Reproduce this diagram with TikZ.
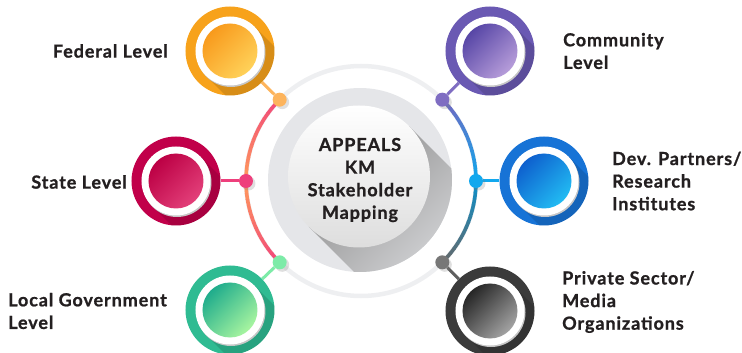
\documentclass[tikz,border=0pt]{standalone}
\usepackage{fontspec}
\setmainfont{Lato}[LetterSpace=5, BoldFeatures={FakeBold=1}]
\usetikzlibrary{calc,shadows,backgrounds}

\definecolor{ink}{HTML}{231F20}
\definecolor{ringgrey}{HTML}{EEEFF1}
\definecolor{hubgrey}{HTML}{E5E6E9}
\definecolor{hubwhite}{HTML}{F6F6F6}
% arc colours
\definecolor{pinkarc}{HTML}{F0457A}
\definecolor{orangearc}{HTML}{FF9A5C}
\definecolor{purplearc}{HTML}{7565C0}
\definecolor{bluearc}{HTML}{0FA8EC}
\definecolor{greyarc}{HTML}{7A7A7A}
% disks: outer, inner top, inner bottom, dot
\definecolor{fedout}{HTML}{F7A21B}\definecolor{fedtop}{HTML}{F89A1C}\definecolor{fedbot}{HTML}{FFD25A}\definecolor{feddot}{HTML}{FDB45C}
\definecolor{staout}{HTML}{C1004A}\definecolor{statop}{HTML}{BC0044}\definecolor{stabot}{HTML}{E3407A}\definecolor{stadot}{HTML}{EE3F7C}
\definecolor{locout}{HTML}{2FBB92}\definecolor{loctop}{HTML}{1FAC8C}\definecolor{locbot}{HTML}{A8F5A0}\definecolor{locdot}{HTML}{7DEBA8}
\definecolor{comout}{HTML}{6A59B3}\definecolor{comtop}{HTML}{5746A6}\definecolor{combot}{HTML}{B79DDA}\definecolor{comdot}{HTML}{7F6DC2}
\definecolor{devout}{HTML}{1773D6}\definecolor{devtop}{HTML}{0E60CE}\definecolor{devbot}{HTML}{22BCF3}\definecolor{devdot}{HTML}{12A8EE}
\definecolor{priout}{HTML}{3B3B3B}\definecolor{pritop}{HTML}{262626}\definecolor{pribot}{HTML}{A3A3A3}\definecolor{pridot}{HTML}{777777}

\tikzset{
  item/.style n args={3}{circle, minimum size=89pt, inner sep=0pt, fill=#1,
    path picture={
      \coordinate (c) at (path picture bounding box.center);
      \fill[black, opacity=.13] ($(c)+(45:34.5pt)$) -- ++(-45:90pt) -- ++(-135:69pt) -- ($(c)+(-135:34.5pt)$) -- cycle;
      \fill[black!22] ($(c)+(1pt,-1.5pt)$) circle (34.5pt);
      \fill[white] (c) circle (34.5pt);
      \shade[top color=#2, bottom color=#3, shading angle=45] (c) circle (27.5pt);
    }},
  dot/.style={circle, minimum size=14pt, inner sep=0pt, fill=#1,
    drop shadow={shadow xshift=2.5pt, shadow yshift=-2.5pt, opacity=.25}},
  link/.style={line width=3pt, #1},
  arcseg/.style={line width=3.6pt},
  lbl/.style={font=\bfseries\fontsize{18}{22.6}\selectfont, text=ink, inner sep=0pt, align=left},
}

\begin{document}
\begin{tikzpicture}[x=1pt,y=1pt]
  \useasboundingbox (-361,-172) rectangle (381,181);

  % centre
  \node[circle, minimum size=184pt, inner sep=0pt, fill=hubgrey,
    path picture={
      \coordinate (w) at ($(path picture bounding box.center)+(-1,3.5)$);
      \shade[top color=black!45, bottom color=hubgrey, shading angle=45]
        ($(w)+(45:71)$) -- ++(-45:120) -- ++(-135:142) -- ($(w)+(-135:71)$) -- cycle;
      \shade[top color=white, bottom color=hubwhite!90!black] (w) circle (71);
    },
    lbl, align=center] (hub) at (-1,1) {APPEALS\\KM\\Stakeholder\\Mapping};

  % dots on the ring
  \node[dot=feddot] (dfed) at (135:115) {};
  \node[dot=stadot] (dsta) at (180:115) {};
  \node[dot=locdot] (dloc) at (225:115) {};
  \node[dot=comdot] (dcom) at (45:115) {};
  \node[dot=devdot] (ddev) at (0:115) {};
  \node[dot=pridot] (dpri) at (-45:115) {};

  % stakeholder disks
  \node[item={fedout}{fedtop}{fedbot}] (federal) at (-131,130) {};
  \node[item={staout}{statop}{stabot}] (state) at (-185,0) {};
  \node[item={locout}{loctop}{locbot}] (local) at (-131,-129) {};
  \node[item={comout}{comtop}{combot}] (community) at (129,130) {};
  \node[item={devout}{devtop}{devbot}] (devpart) at (183,0) {};
  \node[item={priout}{pritop}{pribot}] (private) at (129,-130) {};

  % labels
  \node[lbl, anchor=east] (tfed) at (-193,130) {Federal Level};
  \node[lbl, anchor=east] (tsta) at (-234,-1) {State Level};
  \node[lbl, anchor=west] (tloc) at (-353,-130) {Local Government\\Level};
  \node[lbl, anchor=west] (tcom) at (202,130) {Community\\Level};
  \node[lbl, anchor=west] (tdev) at (251,0) {Dev. Partners/\\Research\\Institutes};
  \node[lbl, anchor=west] (tpri) at (201,-121) {Private Sector/\\Media\\Organizations};

  \begin{pgfonlayer}{background}
    \draw[ringgrey, line width=4.5pt] (0,0) circle (115);
    % left arc, pink at the ends and orange in the middle
    \foreach \a in {135,138,...,222} {
      \pgfmathtruncatemacro\t{abs(\a+1.5-180)/45*100}
      \draw[arcseg, pinkarc!\t!orangearc] (\a:115) arc[start angle=\a, end angle=\a+3.3, radius=115];
    }
    % right arc, purple to blue to grey
    \foreach \a in {0,3,...,42} {
      \pgfmathtruncatemacro\t{(\a+1.5)/45*100}
      \draw[arcseg, purplearc!\t!bluearc] (\a:115) arc[start angle=\a, end angle=\a+3.3, radius=115];
    }
    \foreach \a in {-45,-42,...,-3} {
      \pgfmathtruncatemacro\t{abs(\a+1.5)/45*100}
      \draw[arcseg, greyarc!\t!bluearc!85!black] (\a:115) arc[start angle=\a, end angle=\a+3.3, radius=115];
    }
    % connectors
    \draw[link=feddot] (federal) -- (dfed);
    \draw[link=stadot] (state) -- (dsta);
    \draw[link=locdot] (local) -- (dloc);
    \draw[link=comdot] (community) -- (dcom);
    \draw[link=devdot] (devpart) -- (ddev);
    \draw[link=pridot!80!black] (private) -- (dpri);
  \end{pgfonlayer}
\end{tikzpicture}
\end{document}
